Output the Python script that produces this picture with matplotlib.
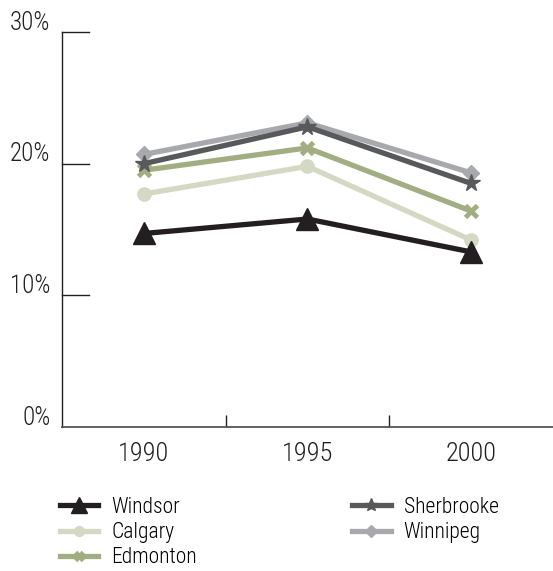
import matplotlib.pyplot as plt

# Data
years = ['1990', '1995', '2000']
windsor = [14.7, 15.8, 13.3]
calgary = [17.7, 19.8, 14.2]
edmonton = [19.5, 21.2, 16.4]
sherbrooke = [20.0, 22.8, 18.5]
winnipeg = [20.7, 23.1, 19.3]
y_ticks = [0, 10, 20, 30]

plt.rcParams['font.family'] = ['Roboto Condensed', 'DejaVu Sans']
plt.rcParams['font.weight'] = 300
TXT = '#231f20'

fig = plt.figure(figsize=(5.53, 5.71), dpi=100)
ax = fig.add_axes([0.112, 0.252, 0.888, 0.692])

x = list(range(len(years)))
series = [
    ('Windsor', windsor, '#231f20', '^', 15.5),
    ('Calgary', calgary, '#d3d9c2', 'o', 9.5),
    ('Edmonton', edmonton, '#a3ad82', 'x', 8),
    ('Sherbrooke', sherbrooke, '#58595b', '*', 13),
    ('Winnipeg', winnipeg, '#a7a9ac', 'D', 8),
]
order = [1, 2, 4, 3, 0]  # drawing order (Windsor on top)
lines = {}
for i in order:
    name, vals, col, mk, ms = series[i]
    kw = dict(color=col, lw=3.8, marker=mk, ms=ms, label=name)
    if mk == 'x':
        kw['mew'] = 3.5
    else:
        kw['mec'] = col
        kw['mew'] = 1
    lines[name], = ax.plot(x, vals, **kw)

ax.set_xlim(-0.5, 2.5)
ax.set_ylim(0, 30)

for s in ['top', 'right']:
    ax.spines[s].set_visible(False)
ax.spines['left'].set_linewidth(1.0)
ax.spines['bottom'].set_linewidth(1.3)
ax.spines['left'].set_color(TXT)
ax.spines['bottom'].set_color('#555555')

# y ticks drawn as short stubs to the right of the spine, labels sit above them
ax.set_yticks([])
for v in y_ticks:
    if v > 0:
        ax.plot([-0.5, -0.335], [v, v], color=TXT, lw=1.0, clip_on=False)
    ax.text(-0.57, v + 0.7, f'{v}%', ha='right', va='center', fontsize=18,
            color=TXT)

# x: category labels without ticks, separator ticks pointing up
ax.set_xticks(x)
ax.set_xticklabels(years, fontsize=19, color=TXT)
ax.tick_params(axis='x', length=0, pad=11)
ax.set_xticks([0.5, 1.5], minor=True)
ax.tick_params(axis='x', which='minor', direction='in', length=9, width=1,
               color=TXT)

handles = [lines[n] for n in ['Windsor', 'Calgary', 'Edmonton', 'Sherbrooke', 'Winnipeg']]
fig.legend(handles=handles, loc='upper left', bbox_to_anchor=(0.108, 0.13),
           ncol=2, frameon=False, fontsize=15.5, handlelength=1.8,
           columnspacing=7.2, labelspacing=0.2, handletextpad=0.6,
           markerscale=0.75, borderaxespad=0, borderpad=0)

fig.savefig('out.png', dpi=100)
